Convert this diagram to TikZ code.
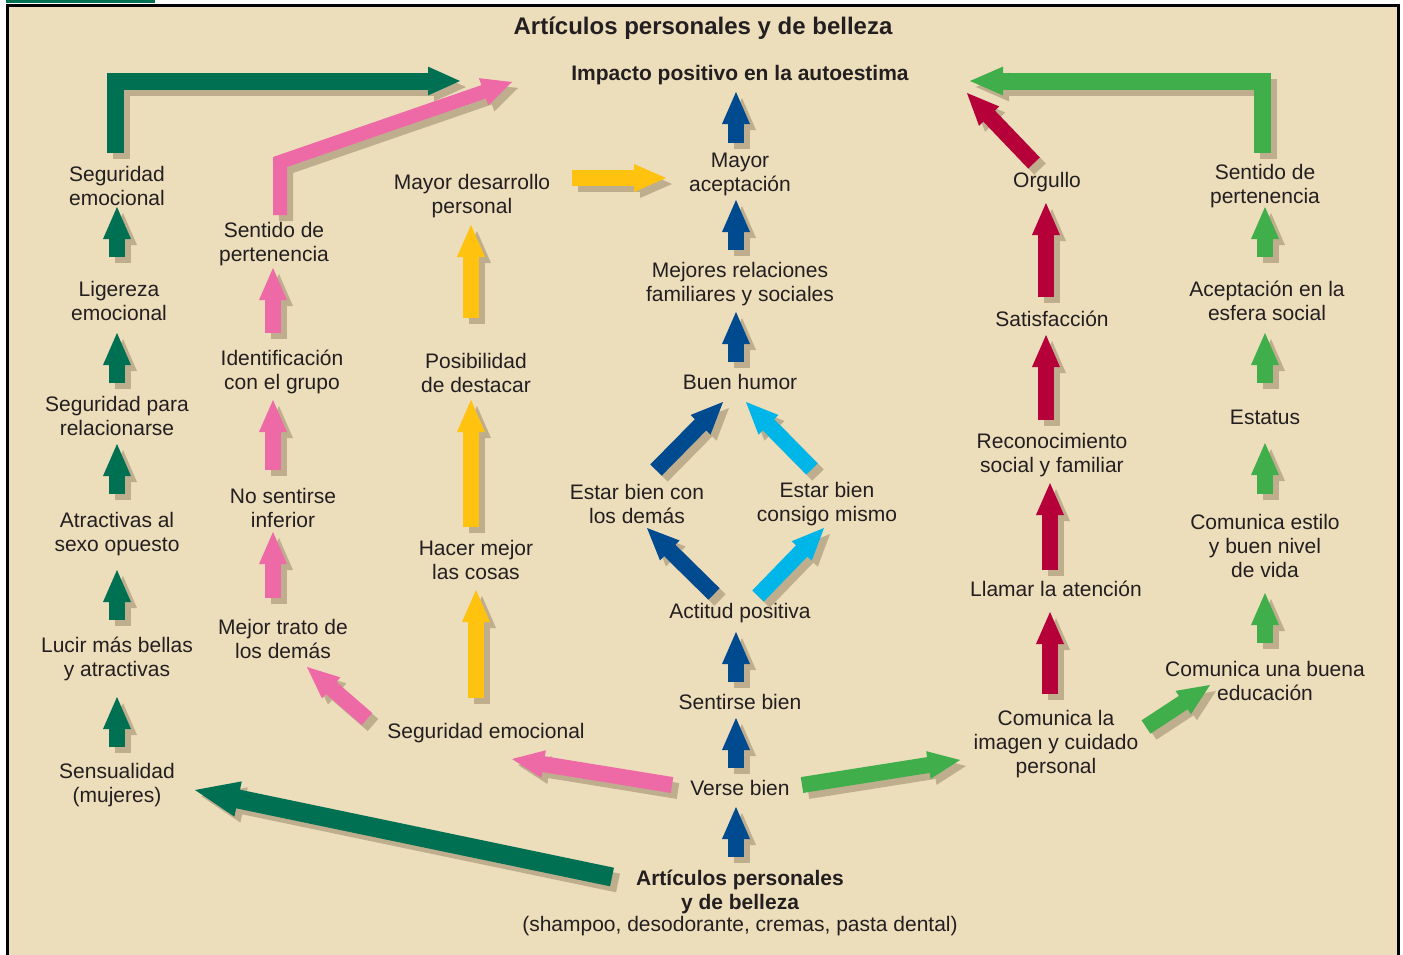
\documentclass[tikz,border=0pt]{standalone}
\usepackage{fontspec}
\setmainfont{Liberation Sans}
\usetikzlibrary{calc}
\definecolor{bg}{HTML}{ECDDBB}
\definecolor{ink}{HTML}{231F20}
\definecolor{cdg}{HTML}{007052}
\definecolor{cpk}{HTML}{EE6AA7}
\definecolor{cyl}{HTML}{FFC20E}
\definecolor{cdb}{HTML}{004A8F}
\definecolor{clb}{HTML}{00B5E8}
\definecolor{ccr}{HTML}{B5003A}
\definecolor{cgr}{HTML}{40AE4A}
\definecolor{cshd}{HTML}{BFAE8E}
% #1 colour, #2 shaft width, #3 half head width, #4 head length, #5 path prefix, #6 from, #7 tip
\newcommand\arrowbody[7]{%
  \coordinate (hb) at ($(#7)!#4!(#6)$);
  \coordinate (hs) at ($(hb)!1pt!(#7)$);
  \draw[#1, line width=#2, line join=miter, line cap=butt] #5 (#6) -- (hs);
  \fill[#1] ($(hb)!#3!90:(#7)$) -- (#7) -- ($(hb)!#3!-90:(#7)$) -- cycle;
}
\newcommand\barrow[7]{%
  \begin{scope}[transform canvas={shift={(3pt,-3pt)}}]\arrowbody{cshd}{#2}{#3}{#4}{#5}{#6}{#7}\end{scope}
  \arrowbody{#1}{#2}{#3}{#4}{#5}{#6}{#7}}
\newcommand\sarrow[3]{\barrow{#1}{8pt}{7pt}{16pt}{}{#2}{#3}}
\begin{document}
\begin{tikzpicture}[x=0.5pt,y=-0.5pt,
  lbl/.style={align=center, text=ink, font=\fontsize{10.5pt}{12pt}\selectfont, inner sep=0pt},
  two/.style={lbl, yshift=-1pt},
  ttl/.style={lbl, font=\fontsize{10.5pt}{12pt}\selectfont\bfseries},
  bigttl/.style={lbl, font=\fontsize{12pt}{14pt}\selectfont\bfseries}]
\useasboundingbox (0,0) rectangle (1403,954);
\fill[white] (0,0) rectangle (1403,954);
\fill[bg] (7,5) rectangle (1398,970);
\draw[black, line width=1.5pt] (7,970) -- (7,5) -- (1398,5) -- (1398,970);
\fill[cdg] (6,0) rectangle (155,3);

% ---------- texts ----------
\node[bigttl] (title) at (703,28) {Artículos personales y de belleza};
\node[ttl] (impacto) at (740,75) {Impacto positivo en la autoestima};
% column 1
\node[two] (se1) at (117,184) {Seguridad\\emocional};
\node[two] (lig) at (119,299) {Ligereza\\emocional};
\node[two] (spr) at (117,414) {Seguridad para\\relacionarse};
\node[two] (atr) at (117,532) {Atractivas al\\sexo opuesto};
\node[two] (luc) at (117,657) {Lucir más bellas\\y atractivas};
\node[two] (sen) at (117,783) {Sensualidad\\(mujeres)};
% column 2
\node[two] (sp1) at (274,242) {Sentido de\\pertenencia};
\node[two] (ide) at (282,370) {Identificación\\con el grupo};
\node[two] (nos) at (283,506) {No sentirse\\inferior};
\node[two] (mej) at (283,637) {Mejor trato de\\los demás};
\node[lbl] (seg2) at (486,733) {Seguridad emocional};
% column 3
\node[two] (mde) at (472,194) {Mayor desarrollo\\personal};
\node[two] (pos) at (476,371) {Posibilidad\\de destacar};
\node[two] (hac) at (476,558) {Hacer mejor\\las cosas};
% column 4
\node[two] (may) at (740,172) {Mayor\\aceptación};
\node[two] (mrel) at (740,282) {Mejores relaciones\\familiares y sociales};
\node[lbl] (bh) at (740,382) {Buen humor};
\node[two] (ebd) at (637,502) {Estar bien con\\los demás};
\node[two] (ebc) at (827,502) {Estar bien\\consigo mismo};
\node[lbl] (act) at (740,613) {Actitud positiva};
\node[lbl] (sb) at (740,702) {Sentirse bien};
\node[lbl] (vb) at (740,788) {Verse bien};
\node[ttl, yshift=-1pt] (art) at (740,890) {Artículos personales\\y de belleza};
\node[lbl] (shp) at (740,926) {(shampoo, desodorante, cremas, pasta dental)};
% column 5
\node[lbl] (org) at (1047,182) {Orgullo};
\node[lbl] (sat) at (1052,319) {Satisfacción};
\node[two] (rec) at (1052,453) {Reconocimiento\\social y familiar};
\node[lbl] (lla) at (1056,589) {Llamar la atención};
\node[two] (com) at (1056,742) {Comunica la\\imagen y cuidado\\personal};
% column 6
\node[two] (sp2) at (1265,184) {Sentido de\\pertenencia};
\node[two] (ace) at (1267,299) {Aceptación en la\\esfera social};
\node[lbl] (est) at (1265,417) {Estatus};
\node[two] (ces) at (1265,544) {Comunica estilo\\y buen nivel\\de vida};
\node[two] (cub) at (1265,679) {Comunica una buena\\educación};

% ---------- arrow end points ----------
% dark green
\coordinate (g1a) at (115.5,153); \coordinate (g1b) at (115.5,81); \coordinate (g1t) at (460,81);
\coordinate (g2a) at (117,257); \coordinate (g2t) at (117,207);
\coordinate (g3a) at (117,383); \coordinate (g3t) at (117,333);
\coordinate (g4a) at (117,494); \coordinate (g4t) at (117,444);
\coordinate (g5a) at (117,620); \coordinate (g5t) at (117,570);
\coordinate (g6a) at (117,747); \coordinate (g6t) at (117,697);
\coordinate (g7a) at (612,877); \coordinate (g7t) at (195,790);
% pink
\coordinate (p1a) at (280,215); \coordinate (p1b) at (280,162); \coordinate (p1t) at (512,82);
\coordinate (p2a) at (273,333); \coordinate (p2t) at (273,268);
\coordinate (p3a) at (273,470); \coordinate (p3t) at (273,400);
\coordinate (p4a) at (273,598); \coordinate (p4t) at (273,532);
\coordinate (p5a) at (367,719); \coordinate (p5t) at (307,667);
\coordinate (p6a) at (672,785); \coordinate (p6t) at (512,759);
% yellow
\coordinate (y1a) at (471,318); \coordinate (y1t) at (471,225);
\coordinate (y2a) at (471,527); \coordinate (y2t) at (471,400);
\coordinate (y3a) at (476,698); \coordinate (y3t) at (476,590);
\coordinate (y4a) at (572,178); \coordinate (y4t) at (666,178);
% blue
\coordinate (b1a) at (736,143); \coordinate (b1t) at (736,92);
\coordinate (b2a) at (736,250); \coordinate (b2t) at (736,200);
\coordinate (b3a) at (736,362); \coordinate (b3t) at (736,312);
\coordinate (b4a) at (736,682); \coordinate (b4t) at (736,632);
\coordinate (b5a) at (736,768); \coordinate (b5t) at (736,718);
\coordinate (b6a) at (736,857); \coordinate (b6t) at (736,807);
\coordinate (b7a) at (656,470); \coordinate (b7t) at (723,402);
\coordinate (b8a) at (714,594); \coordinate (b8t) at (647,528);
\coordinate (l1a) at (812,469); \coordinate (l1t) at (746,402);
\coordinate (l2a) at (758,596); \coordinate (l2t) at (824,528);
% crimson
\coordinate (c1a) at (1046,297); \coordinate (c1t) at (1046,203);
\coordinate (c2a) at (1046,420); \coordinate (c2t) at (1046,335);
\coordinate (c3a) at (1050,570); \coordinate (c3t) at (1050,483);
\coordinate (c4a) at (1050,694); \coordinate (c4t) at (1050,612);
\coordinate (c5a) at (1034,163); \coordinate (c5t) at (967,93);
% green
\coordinate (e1a) at (1262.5,153); \coordinate (e1b) at (1262.5,81); \coordinate (e1t) at (970,81);
\coordinate (e2a) at (1265,257); \coordinate (e2t) at (1265,207);
\coordinate (e3a) at (1265,383); \coordinate (e3t) at (1265,333);
\coordinate (e4a) at (1265,494); \coordinate (e4t) at (1265,443);
\coordinate (e5a) at (1265,643); \coordinate (e5t) at (1265,593);
\coordinate (e6a) at (802,785); \coordinate (e6t) at (960,760);
\coordinate (e7a) at (1146,727); \coordinate (e7t) at (1210,685);

% ---------- arrows ----------
\barrow{cdg}{8.5pt}{7.2pt}{16pt}{(g1a) --}{g1b}{g1t}
\sarrow{cdg}{g2a}{g2t}
\sarrow{cdg}{g3a}{g3t}
\sarrow{cdg}{g4a}{g4t}
\sarrow{cdg}{g5a}{g5t}
\sarrow{cdg}{g6a}{g6t}
\barrow{cdg}{9.5pt}{9pt}{22pt}{}{g7a}{g7t}

\barrow{cpk}{7pt}{7.2pt}{15pt}{(p1a) --}{p1b}{p1t}
\sarrow{cpk}{p2a}{p2t}
\sarrow{cpk}{p3a}{p3t}
\sarrow{cpk}{p4a}{p4t}
\sarrow{cpk}{p5a}{p5t}
\sarrow{cpk}{p6a}{p6t}

\sarrow{cyl}{y1a}{y1t}
\sarrow{cyl}{y2a}{y2t}
\sarrow{cyl}{y3a}{y3t}
\sarrow{cyl}{y4a}{y4t}

\sarrow{cdb}{b1a}{b1t}
\sarrow{cdb}{b2a}{b2t}
\sarrow{cdb}{b3a}{b3t}
\sarrow{cdb}{b4a}{b4t}
\sarrow{cdb}{b5a}{b5t}
\sarrow{cdb}{b6a}{b6t}
\sarrow{cdb}{b7a}{b7t}
\sarrow{cdb}{b8a}{b8t}
\sarrow{clb}{l1a}{l1t}
\sarrow{clb}{l2a}{l2t}

\sarrow{ccr}{c1a}{c1t}
\sarrow{ccr}{c2a}{c2t}
\sarrow{ccr}{c3a}{c3t}
\sarrow{ccr}{c4a}{c4t}
\sarrow{ccr}{c5a}{c5t}

\barrow{cgr}{8.5pt}{7.2pt}{16.5pt}{(e1a) --}{e1b}{e1t}
\sarrow{cgr}{e2a}{e2t}
\sarrow{cgr}{e3a}{e3t}
\sarrow{cgr}{e4a}{e4t}
\sarrow{cgr}{e5a}{e5t}
\sarrow{cgr}{e6a}{e6t}
\sarrow{cgr}{e7a}{e7t}
\end{tikzpicture}
\end{document}
